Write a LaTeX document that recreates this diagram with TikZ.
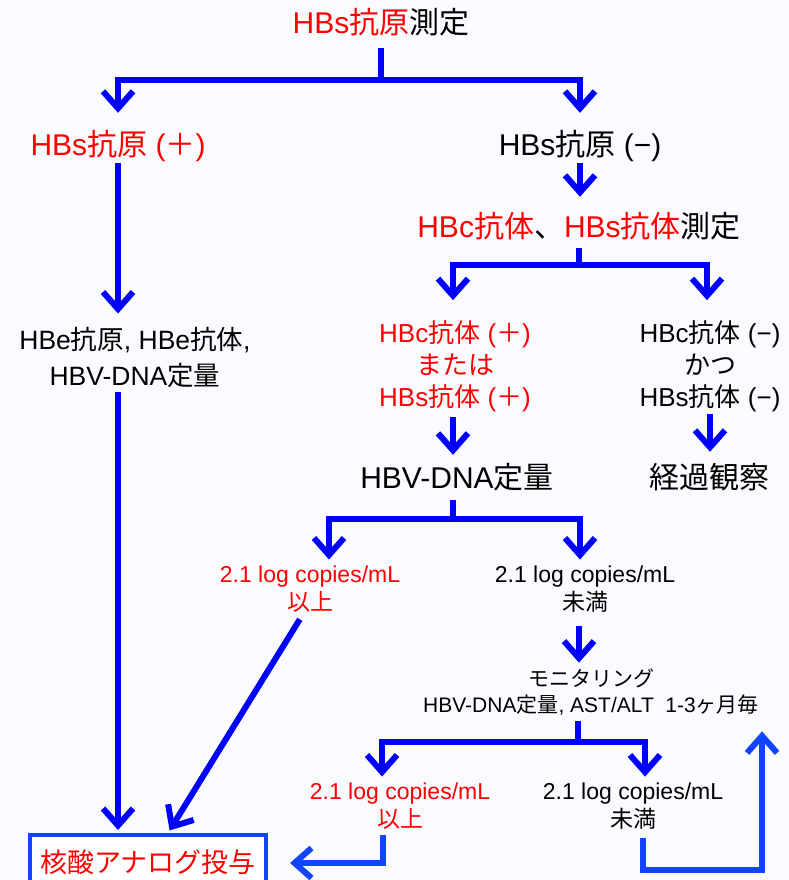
\documentclass[tikz,border=0pt]{standalone}
\usepackage{fontspec}
\setmainfont{Liberation Sans}
\newfontfamily\jp{Noto Sans CJK JP}
\newcommand\J[1]{{\jp #1}}
\usetikzlibrary{arrows.meta}
\definecolor{lblue}{RGB}{17,68,255}
\definecolor{bgc}{RGB}{250,251,255}

\begin{document}
\begin{tikzpicture}[x=1pt,y=-1pt,
        lb/.style={inner sep=0pt,align=center},
        f30/.style={lb,font=\fontsize{30}{36}\selectfont,text height=26pt,text depth=4pt},
        f26/.style={lb,font=\fontsize{26}{32}\selectfont},
        f23/.style={lb,font=\fontsize{23}{28}\selectfont},
        f21/.style={lb,font=\fontsize{21}{26}\selectfont},
        ar/.style={draw=blue,line width=6pt,-{Straight Barb[length=17pt,width=30pt]}},
        al/.style={ar,draw=lblue}]
        \useasboundingbox (0,0) rectangle (789,880);
        \fill[bgc] (0,0) rectangle (789,880);
        \node[f30] (t) at (381,23) {\textcolor{red}{HBs\J{抗原}}\J{測定}};
        \node[f30,red] (pos) at (118,144) {HBs\J{抗原} (\J{＋})};
        \node[f30] (neg) at (580,144) {HBs\J{抗原} (−)};
        \node[f30] (abt) at (579,226) {\textcolor{red}{HBc\J{抗体}}\J{、}\textcolor{red}{HBs\J{抗体}}\J{測定}};
        \node[lb,font=\fontsize{26.5}{36}\selectfont] (ebl) at (135,357) {HBe\J{抗原}, HBe\J{抗体},\\HBV-DNA\J{定量}};
        \node[f26,red] (orp) at (455,366) {HBc\J{抗体} (\J{＋})\\\J{または}\\HBs\J{抗体} (\J{＋})};
        \node[f26] (andn) at (710,366) {HBc\J{抗体} (−)\\\J{かつ}\\HBs\J{抗体} (−)};
        \node[f30] (dna) at (457,477) {HBV-DNA\J{定量}};
        \node[f30] (obs) at (709,477) {\J{経過観察}};
        \node[f23,red] (hi1) at (310,589) {2.1 log copies/mL\\\J{以上}};
        \node[f23] (lo1) at (585,589) {2.1 log copies/mL\\\J{未満}};
        \node[f21] (mon) at (591,692) {\J{モニタリング}\\HBV-DNA\J{定量}, AST/ALT\ \ 1-3\J{ヶ月毎}};
        \node[f23,red] (hi2) at (400,806) {2.1 log copies/mL\\\J{以上}};
        \node[f23] (lo2) at (633,806) {2.1 log copies/mL\\\J{未満}};
        \node[lb,font=\fontsize{27}{32}\selectfont,text height=23pt,text depth=4pt,red,draw=lblue,line width=4pt,fill=white,minimum width=236pt,minimum height=56pt] (na) at (148,863) {\J{核酸アナログ投与}};
        \coordinate (b1) at (381,80);
        \coordinate (b2) at (579,265);
        \coordinate (b3) at (453,519);
        \coordinate (b4) at (578,742);
        \foreach \n in {pos,neg}
            \draw[ar,shorten <=10pt,shorten >=16pt] (t.south) -- (b1) -| (\n.north);
        \draw[ar,shorten <=4pt,shorten >=13pt] (pos.south) -- (pos.south |- ebl.north);
        \draw[ar,shorten <=5pt,shorten >=3pt] ([xshift=-17pt]ebl.south) -- ([xshift=-17pt]ebl.south |- na.north);
        \draw[ar,shorten <=4pt,shorten >=14pt] (neg.south) -- (neg.south |- abt.north);
        \foreach \n/\s in {orp/-2,andn/-3}
            \draw[ar,shorten <=7pt,shorten >=20pt] (abt.south) -- (b2) -| ([xshift=\s pt]\n.north);
        \draw[ar,shorten <=5pt,shorten >=7pt] ([xshift=-2pt]orp.south) -- ([xshift=-2pt]orp.south |- dna.north);
        \draw[ar,shorten <=2pt,shorten >=10pt] (andn.south) -- (andn.south |- obs.north);
        \foreach \n/\s in {hi1/19,lo1/-5}
            \draw[ar,shorten <=8pt,shorten >=6pt] ([xshift=-4pt]dna.south) -- (b3) -| ([xshift=\s pt]\n.north);
        \draw[ar,shorten <=8pt,shorten >=3pt] ([xshift=-6pt]hi1.south) -- ([xshift=20pt]na.north);
        \draw[ar,shorten <=14pt,shorten >=6pt] ([xshift=-6pt]lo1.south) -- ([xshift=-6pt]lo1.south |- mon.north);
        \foreach \n/\s in {hi2/-18,lo2/12}
            \draw[ar,shorten <=6pt,shorten >=6pt] ([xshift=-13pt]mon.south) -- (b4) -| ([xshift=\s pt]\n.north);
        \draw[al,shorten <=6pt,shorten >=22pt] ([xshift=-17pt]hi2.south) |- (na.east);
        \draw[al,shorten <=9pt,shorten >=16pt] ([xshift=10pt]lo2.south) -- ++(0,41) -| ([xshift=3pt]mon.south east);
\end{tikzpicture}
\end{document}
